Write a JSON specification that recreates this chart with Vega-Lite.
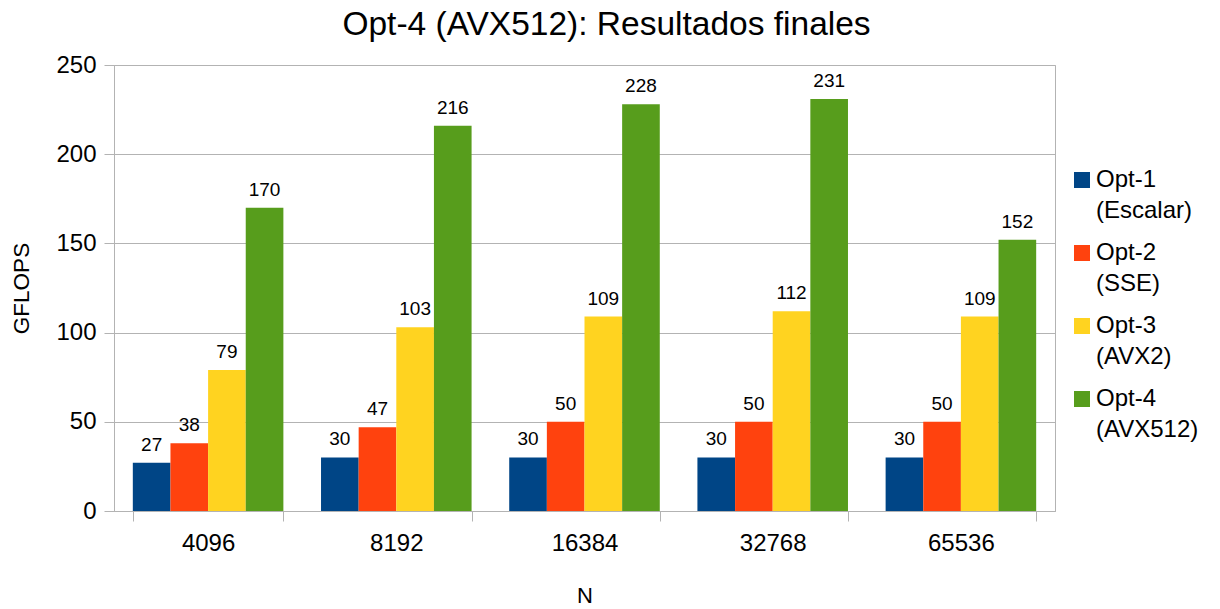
{
  "$schema": "https://vega.github.io/schema/vega-lite/v6.json",
  "width": 941,
  "height": 446,
  "autosize": "none",
  "padding": {"left": 114, "top": 65, "right": 165, "bottom": 98},
  "background": "white",
  "title": {
    "text": "Opt-4 (AVX512): Resultados finales",
    "font": "Liberation Sans",
    "fontSize": 33.5,
    "fontWeight": "normal",
    "color": "black",
    "anchor": "middle",
    "dx": 22,
    "offset": 11
  },
  "data": {
    "values": [
      {"N": "4096", "opt": "Opt-1 (Escalar)", "gflops": 27},
      {"N": "4096", "opt": "Opt-2 (SSE)", "gflops": 38},
      {"N": "4096", "opt": "Opt-3 (AVX2)", "gflops": 79},
      {"N": "4096", "opt": "Opt-4 (AVX512)", "gflops": 170},
      {"N": "8192", "opt": "Opt-1 (Escalar)", "gflops": 30},
      {"N": "8192", "opt": "Opt-2 (SSE)", "gflops": 47},
      {"N": "8192", "opt": "Opt-3 (AVX2)", "gflops": 103},
      {"N": "8192", "opt": "Opt-4 (AVX512)", "gflops": 216},
      {"N": "16384", "opt": "Opt-1 (Escalar)", "gflops": 30},
      {"N": "16384", "opt": "Opt-2 (SSE)", "gflops": 50},
      {"N": "16384", "opt": "Opt-3 (AVX2)", "gflops": 109},
      {"N": "16384", "opt": "Opt-4 (AVX512)", "gflops": 228},
      {"N": "32768", "opt": "Opt-1 (Escalar)", "gflops": 30},
      {"N": "32768", "opt": "Opt-2 (SSE)", "gflops": 50},
      {"N": "32768", "opt": "Opt-3 (AVX2)", "gflops": 112},
      {"N": "32768", "opt": "Opt-4 (AVX512)", "gflops": 231},
      {"N": "65536", "opt": "Opt-1 (Escalar)", "gflops": 30},
      {"N": "65536", "opt": "Opt-2 (SSE)", "gflops": 50},
      {"N": "65536", "opt": "Opt-3 (AVX2)", "gflops": 109},
      {"N": "65536", "opt": "Opt-4 (AVX512)", "gflops": 152}
    ]
  },
  "encoding": {
    "x": {
      "field": "N",
      "type": "nominal",
      "sort": ["4096", "8192", "16384", "32768", "65536"],
      "scale": {"paddingInner": 0.2, "paddingOuter": 0.1},
      "axis": {
        "title": "N",
        "labelAngle": 0,
        "tickBand": "extent",
        "grid": false,
        "labelPadding": 10,
        "titlePadding": 30,
        "titleFontSize": 22
      }
    },
    "xOffset": {
      "field": "opt",
      "type": "nominal",
      "sort": ["Opt-1 (Escalar)", "Opt-2 (SSE)", "Opt-3 (AVX2)", "Opt-4 (AVX512)"],
      "scale": {"paddingInner": 0, "paddingOuter": 0}
    },
    "y": {
      "field": "gflops",
      "type": "quantitative",
      "scale": {"domain": [0, 250], "nice": false},
      "axis": {
        "title": "GFLOPS",
        "values": [0, 50, 100, 150, 200, 250],
        "labelPadding": 8,
        "titlePadding": 22,
        "titleFontSize": 22.5
      }
    }
  },
  "layer": [
    {
      "mark": {"type": "bar"},
      "encoding": {
        "color": {
          "field": "opt",
          "type": "nominal",
          "sort": ["Opt-1 (Escalar)", "Opt-2 (SSE)", "Opt-3 (AVX2)", "Opt-4 (AVX512)"],
          "scale": {
            "domain": ["Opt-1 (Escalar)", "Opt-2 (SSE)", "Opt-3 (AVX2)", "Opt-4 (AVX512)"],
            "range": ["#004586", "#ff420e", "#ffd320", "#579d1c"]
          },
          "legend": {
            "title": null,
            "orient": "none",
            "legendX": 956,
            "legendY": 103,
            "symbolType": "square",
            "symbolSize": 256,
            "symbolStrokeWidth": 0,
            "labelFontSize": 24,
            "labelFont": "Liberation Sans",
            "labelColor": "black",
            "labelLimit": 300,
            "labelOffset": 2,
            "rowPadding": 18,
            "labelExpr": "split(datum.label, ' ')"
          }
        }
      }
    },
    {
      "mark": {"type": "text", "baseline": "alphabetic", "dy": -12, "fontSize": 19, "font": "Liberation Sans", "color": "black"},
      "encoding": {
        "text": {"field": "gflops", "type": "quantitative"}
      }
    }
  ],
  "config": {
    "font": "Liberation Sans",
    "view": {"stroke": "#b3b3b3"},
    "style": {"guide-label": {"lineHeight": 31}},
    "axis": {
      "labelFont": "Liberation Sans",
      "titleFont": "Liberation Sans",
      "labelColor": "black",
      "titleColor": "black",
      "titleFontWeight": "normal",
      "labelFontSize": 24,
      "domainColor": "#b3b3b3",
      "tickColor": "#b3b3b3",
      "gridColor": "#b3b3b3",
      "tickSize": 10
    }
  }
}
